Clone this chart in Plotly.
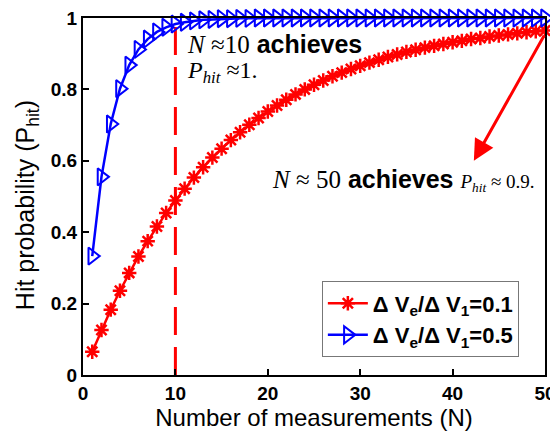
import plotly.graph_objects as go

N = list(range(1, 51))
p_red = [0.065, 0.126, 0.183, 0.236, 0.286, 0.332, 0.375, 0.416, 0.454, 0.489,
         0.522, 0.553, 0.582, 0.609, 0.634, 0.658, 0.680, 0.701, 0.720, 0.738,
         0.755, 0.771, 0.786, 0.800, 0.813, 0.825, 0.837, 0.847, 0.857, 0.866,
         0.875, 0.883, 0.891, 0.898, 0.905, 0.911, 0.917, 0.922, 0.927, 0.932,
         0.936, 0.941, 0.944, 0.948, 0.951, 0.954, 0.957, 0.960, 0.963, 0.965]
p_blue = [0.333, 0.555, 0.703, 0.802, 0.868, 0.912, 0.941, 0.961, 0.974, 0.983,
          0.988, 0.992, 0.995, 0.996, 0.998, 0.998, 0.999, 0.999, 1.0, 1.0,
          1.0, 1.0, 1.0, 1.0, 1.0, 1.0, 1.0, 1.0, 1.0, 1.0,
          1.0, 1.0, 1.0, 1.0, 1.0, 1.0, 1.0, 1.0, 1.0, 1.0,
          1.0, 1.0, 1.0, 1.0, 1.0, 1.0, 1.0, 1.0, 1.0, 1.0]
vline_x = [10, 10]
vline_y = [0, 1]
x_ticks = [0, 10, 20, 30, 40, 50]
y_ticks = [0, 0.2, 0.4, 0.6, 0.8, 1]
y_ticktext = ["0", "0.2", "0.4", "0.6", "0.8", "1"]
legend_names = ["Δ V<sub>e</sub>/Δ V<sub>1</sub>=0.1", "Δ V<sub>e</sub>/Δ V<sub>1</sub>=0.5"]

SANS = "Liberation Sans, Arial, sans-serif"
SERIF = "Liberation Serif, Times New Roman, serif"

fig = go.Figure()
fig.add_trace(go.Scatter(
    x=vline_x, y=vline_y, mode="lines", showlegend=False,
    line=dict(color="#ff0000", width=3, dash="28px,12px"), cliponaxis=False))
fig.add_trace(go.Scatter(
    x=N, y=p_red, mode="lines+markers", name=legend_names[0],
    line=dict(color="#ff0000", width=2.5),
    marker=dict(symbol="asterisk-open", size=12, color="#ff0000",
                line=dict(color="#ff0000", width=2.5)),
    cliponaxis=False))
fig.add_trace(go.Scatter(
    x=N, y=p_blue, mode="lines+markers", name=legend_names[1],
    line=dict(color="#0000ff", width=2.5),
    marker=dict(symbol="triangle-right-open", size=15, color="#0000ff",
                line=dict(color="#0000ff", width=2)),
    cliponaxis=False))

serif_span = "<span style='font-family:Liberation Serif'>"
fig.add_annotation(
    x=0.22, y=0.928, xref="paper", yref="paper", xanchor="left", yanchor="middle",
    showarrow=False,
    text=serif_span + "<i>N</i> ≈10</span> <b>achieves</b>",
    font=dict(family=SANS, size=25, color="black"))
fig.add_annotation(
    x=0.22, y=0.848, xref="paper", yref="paper", xanchor="left", yanchor="middle",
    showarrow=False,
    text=serif_span + "<i>P<sub>hit</sub></i> ≈1.</span>",
    font=dict(family=SERIF, size=24, color="black"))
fig.add_annotation(
    x=0.404, y=0.546, xref="paper", yref="paper", xanchor="left", yanchor="middle",
    showarrow=False,
    text=serif_span + "<i>N</i> ≈ 50</span> <b>achieves</b> "
         + "<span style='font-family:Liberation Serif;font-size:19px'><i>P<sub>hit</sub></i> ≈ 0.9.</span>",
    font=dict(family=SANS, size=25, color="black"))
fig.add_annotation(
    x=42.3, y=0.6, ax=50.0, ay=0.955, xref="x", yref="y", axref="x", ayref="y",
    text="", showarrow=True, arrowhead=2, arrowsize=1.4, arrowwidth=3,
    arrowcolor="#ff0000")
# y-axis title as a rotated annotation so it can sit where the reference has it
fig.add_annotation(
    x=-0.121, y=0.476, xref="paper", yref="paper", xanchor="center", yanchor="middle",
    showarrow=False, textangle=-90,
    text="Hit probability (P<sub>hit</sub>)",
    font=dict(family=SANS, size=25, color="black"))

# page body has an 8px margin, so the figure is 8px smaller and margins shifted
fig.update_layout(
    width=550, height=426,
    margin=dict(l=75, r=13, t=10, b=59),
    paper_bgcolor="white", plot_bgcolor="white",
    font=dict(family=SANS, color="black"),
    showlegend=True,
    legend=dict(x=0.517, y=0.262, xanchor="left", yanchor="top",
                bgcolor="white", bordercolor="#777777", borderwidth=1,
                font=dict(family=SANS, size=22, color="black", weight="bold"),
                itemwidth=40, tracegroupgap=0),
)
fig.update_xaxes(
    range=[0, 50], tickvals=x_ticks, showgrid=False, zeroline=False, automargin=False,
    showline=True, mirror=True, linecolor="black", linewidth=2,
    ticks="inside", ticklen=6, tickwidth=2, tickcolor="black",
    ticklabeloverflow="allow",
    tickfont=dict(family=SANS, size=19, color="black", weight="bold"),
    title=dict(text="Number of measurements (N)", font=dict(family=SANS, size=24), standoff=4))
fig.update_yaxes(
    range=[0, 1], tickvals=y_ticks, ticktext=y_ticktext, showgrid=False, zeroline=False,
    automargin=False, ticklabeloverflow="allow",
    showline=True, mirror=True, linecolor="black", linewidth=2,
    ticks="inside", ticklen=6, tickwidth=2, tickcolor="black",
    tickfont=dict(family=SANS, size=19, color="black", weight="bold"))

fig.write_html("out.html")
